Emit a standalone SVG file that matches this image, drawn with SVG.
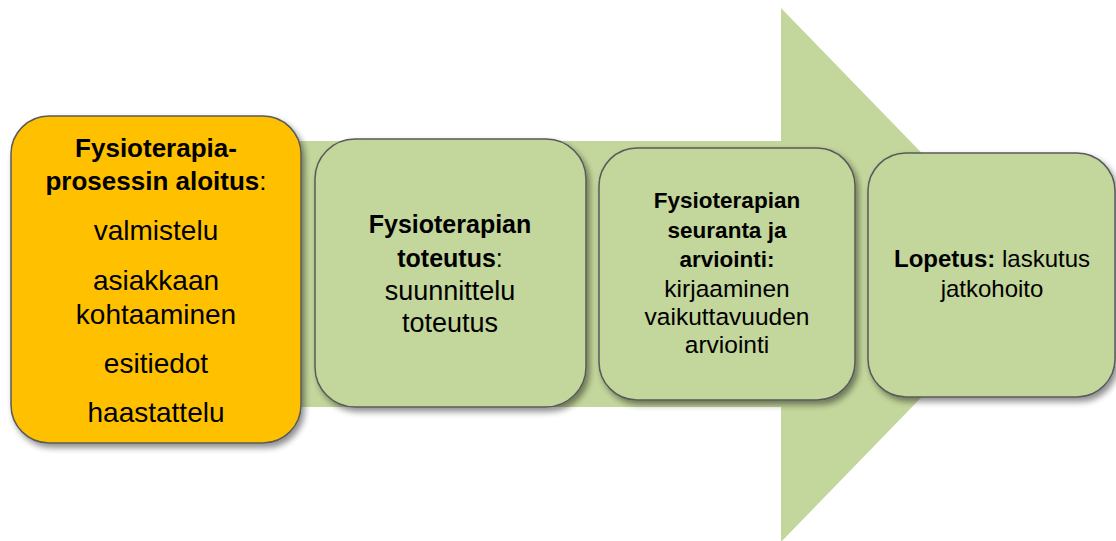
<svg xmlns="http://www.w3.org/2000/svg" width="1116" height="541" viewBox="0 0 1116 541">
<defs>
<filter id="sh" x="-10%" y="-10%" width="125%" height="125%">
<feGaussianBlur in="SourceAlpha" stdDeviation="3"/>
<feOffset dx="3" dy="4" result="b"/>
<feComponentTransfer><feFuncA type="linear" slope="0.45"/></feComponentTransfer>
<feMerge><feMergeNode/><feMergeNode in="SourceGraphic"/></feMerge>
</filter>
<style>
.box{stroke:#5a5a5a;stroke-width:1.5;filter:url(#sh)}
.g{fill:#C3D69B}
.o{fill:#FFC000}
text{font-family:"Liberation Sans",Arial,sans-serif;fill:#000;text-anchor:middle}
.b{font-weight:bold}
</style>
</defs>
<rect width="1116" height="541" fill="#fff"/>
<g id="connectors">
<polygon class="g" points="20,141 781,141 781,8 1040,275 781,542 781,407 20,407"/>
</g>
<g id="box1">
<rect class="box o" x="11" y="116" width="290" height="327" rx="38"/>
<text x="156" y="157" class="b" font-size="26">Fysioterapia-</text>
<text x="156" y="190" font-size="26"><tspan class="b">prosessin aloitus</tspan>:</text>
<text x="156" y="240" font-size="28">valmistelu</text>
<text x="156" y="290" font-size="28">asiakkaan</text>
<text x="156" y="324" font-size="28">kohtaaminen</text>
<text x="156" y="373" font-size="28">esitiedot</text>
<text x="156" y="422" font-size="28">haastattelu</text>
</g>
<g id="box2">
<rect class="box g" x="315" y="139" width="271" height="268" rx="40"/>
<text x="450" y="233" class="b" font-size="25">Fysioterapian</text>
<text x="450" y="267" font-size="25"><tspan class="b">toteutus</tspan>:</text>
<text x="450" y="300" font-size="27">suunnittelu</text>
<text x="450" y="332" font-size="27">toteutus</text>
</g>
<g id="box3">
<rect class="box g" x="599" y="148" width="256" height="252" rx="38"/>
<text x="727" y="208" class="b" font-size="22.5">Fysioterapian</text>
<text x="727" y="238" class="b" font-size="22.5">seuranta ja</text>
<text x="727" y="267" class="b" font-size="22.5">arviointi:</text>
<text x="727" y="297" font-size="24.5">kirjaaminen</text>
<text x="727" y="325" font-size="24.5">vaikuttavuuden</text>
<text x="727" y="353" font-size="24.5">arviointi</text>
</g>
<g id="box4">
<rect class="box g" x="868" y="153" width="247" height="244" rx="38"/>
<text x="992" y="267" font-size="24"><tspan class="b">Lopetus:</tspan> laskutus</text>
<text x="992" y="297" font-size="24">jatkohoito</text>
</g>
</svg>
